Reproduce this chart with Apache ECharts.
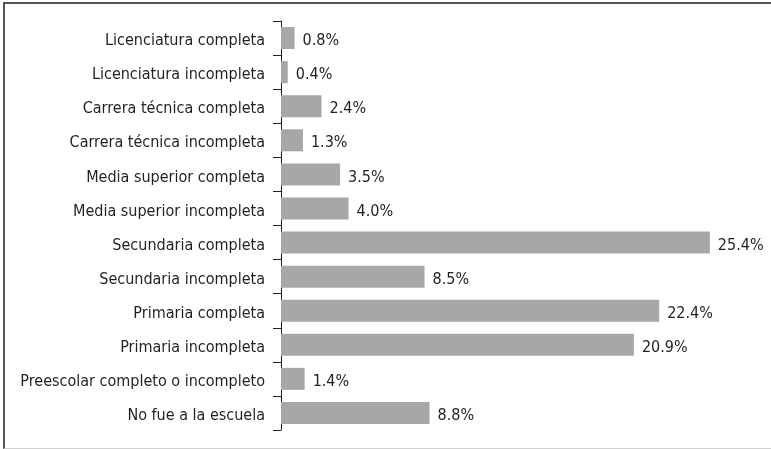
<!DOCTYPE html>
<html>
<head>
<meta charset="utf-8">
<script src="https://cdn.jsdelivr.net/npm/echarts@6/dist/echarts.min.js"></script>
<style>
html,body{margin:0;padding:0;background:#fff;}
#chart{position:absolute;left:0;top:0;width:771px;height:449px;}
#frame{position:absolute;left:3px;top:2px;width:766px;height:444px;border-top:2px solid #555;border-left:2px solid #555;border-bottom:1px solid #d0d0d0;pointer-events:none;}
</style>
</head>
<body>
<div id="chart"></div>
<div id="frame"></div>
<script>
const categories = [
  "Licenciatura completa",
  "Licenciatura incompleta",
  "Carrera técnica completa",
  "Carrera técnica incompleta",
  "Media superior completa",
  "Media superior incompleta",
  "Secundaria completa",
  "Secundaria incompleta",
  "Primaria completa",
  "Primaria incompleta",
  "Preescolar completo o incompleto",
  "No fue a la escuela"
];
const values = [0.8, 0.4, 2.4, 1.3, 3.5, 4.0, 25.4, 8.5, 22.4, 20.9, 1.4, 8.8];

const FONT = "'DejaVu Sans Condensed', 'Liberation Sans', sans-serif";
const chart = echarts.init(document.getElementById('chart'), null, {renderer: 'canvas'});
chart.setOption({
  animation: false,
  grid: {left: 281, right: 51, top: 21, bottom: 19, containLabel: false, outerBoundsMode: 'none'},
  xAxis: {
    type: 'value', min: 0, max: 26, show: false
  },
  yAxis: {
    type: 'category',
    data: categories,
    inverse: true,
    axisLine: {show: true, lineStyle: {color: '#231f20', width: 1}},
    axisTick: {show: true, length: 8, lineStyle: {color: '#231f20', width: 1}},
    axisLabel: {
      margin: 16, color: '#231f20', fontFamily: FONT, fontSize: 16,
      formatter: v => '{a|' + v + '}',
      rich: {a: {color: '#231f20', fontFamily: FONT, fontSize: 16, padding: [6, 0, 0, 0]}}
    },
    splitLine: {show: false}
  },
  series: [{
    type: 'bar',
    data: values,
    barWidth: 22,
    itemStyle: {color: '#a7a7a9'},
    label: {
      show: true,
      position: 'right',
      distance: 8,
      offset: [0, 3],
      color: '#231f20',
      fontFamily: FONT,
      fontSize: 16,
      formatter: p => p.value.toFixed(1) + '%'
    }
  }]
});
</script>
</body>
</html>
